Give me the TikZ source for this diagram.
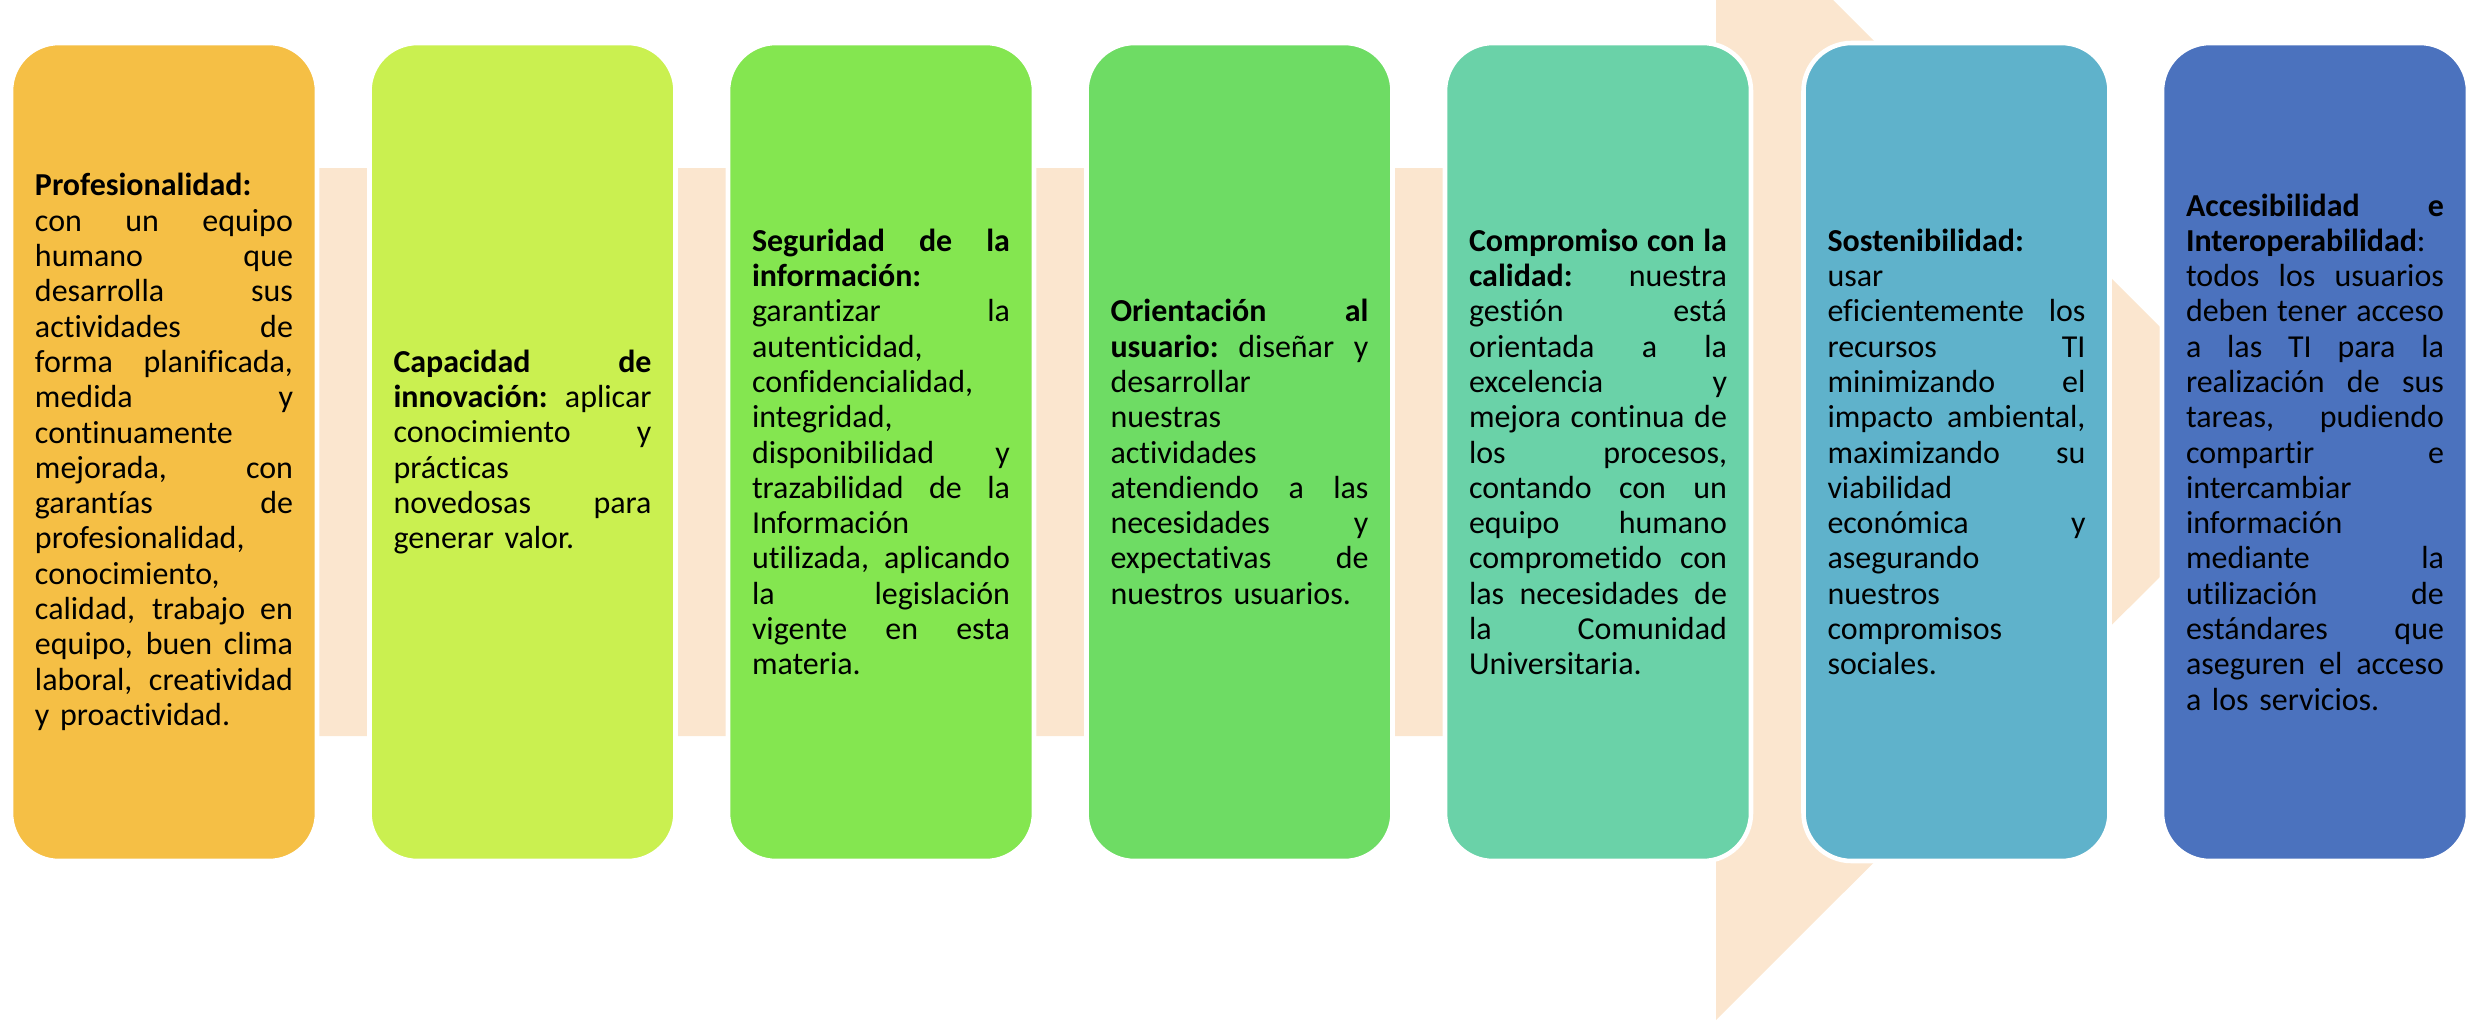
\documentclass[tikz,border=0pt]{standalone}
\usepackage{fontspec}
\setmainfont{Carlito}[Ligatures=NoCommon, Contextuals=NoAlternate]
\usetikzlibrary{positioning}

\definecolor{peach}{HTML}{FBE6CF}
\definecolor{c1}{HTML}{F5BF45}
\definecolor{c2}{HTML}{CAF050}
\definecolor{c3}{HTML}{84E650}
\definecolor{c4}{HTML}{6EDC64}
\definecolor{c5}{HTML}{6AD2A8}
\definecolor{c6}{HTML}{5FB2CB}
\definecolor{c7}{HTML}{4B72BE}

% justified line
\newlength{\tw}
\setlength{\tw}{2.58cm}
\newcommand{\jl}[1]{\hbox to \tw{\spaceskip=0.23em plus 1fil\relax
    \xspaceskip=0.23em plus 1fil\relax #1}\par}

\begin{document}
\begin{tikzpicture}
    [node distance =3.585cm,
    box/.style={draw=white, line width=1.3pt, rounded corners=0.48cm,
        minimum width=3.06cm, minimum height=8.18cm, text width=\tw,
        inner xsep=0.24cm, inner ysep=0pt,
        font=\fontsize{9.1}{10.04}\selectfont}]
        \useasboundingbox (0,0) rectangle (24.9,10.32);

        %% Arrow
        \fill[peach] (1.6,2.96) -- (17.16,2.96) -- (17.16,0.12) -- (22.85,5.80)
            -- (17.16,11.49) -- (17.16,8.64) -- (1.6,8.64) -- cycle;

        %% Boxes
        \node[box, fill=c1] (B1) at (1.64,5.80) {
            \textbf{Profesionalidad:}\par
            \jl{con un equipo}
            \jl{humano que}
            \jl{desarrolla sus}
            \jl{actividades de}
            \jl{forma planificada,}
            \jl{medida y}
            continuamente\par
            \jl{mejorada, con}
            \jl{garantías de}
            profesionalidad,\par
            conocimiento,\par
            \jl{calidad, trabajo en}
            \jl{equipo, buen clima}
            \jl{laboral, creatividad}
            y proactividad.};
        \node[box, fill=c2, right of = B1] (B2) {
            \jl{\textbf{Capacidad de}}
            \jl{\textbf{innovación:} aplicar}
            \jl{conocimiento y}
            prácticas\par
            \jl{novedosas para}
            generar valor.};
        \node[box, fill=c3, right of = B2] (B3) {
            \jl{\textbf{Seguridad de la}}
            \textbf{información:}\par
            \jl{garantizar la}
            autenticidad,\par
            confidencialidad,\par
            integridad,\par
            \jl{disponibilidad y}
            \jl{trazabilidad de la}
            Información\par
            \jl{utilizada, aplicando}
            \jl{la legislación}
            \jl{vigente en esta}
            materia.};
        \node[box, fill=c4, right of = B3] (B4) {
            \jl{\textbf{Orientación al}}
            \jl{\textbf{usuario:} diseñar y}
            desarrollar\par
            nuestras\par
            actividades\par
            \jl{atendiendo a las}
            \jl{necesidades y}
            \jl{expectativas de}
            nuestros usuarios.};
        \node[box, fill=c5, right of = B4] (B5) {
            \jl{\textbf{Compromiso con la}}
            \jl{\textbf{calidad:} nuestra}
            \jl{gestión está}
            \jl{orientada a la}
            \jl{excelencia y}
            \jl{mejora continua de}
            \jl{los procesos,}
            \jl{contando con un}
            \jl{equipo humano}
            \jl{comprometido con}
            \jl{las necesidades de}
            \jl{la Comunidad}
            Universitaria.};
        \node[box, fill=c6, right of = B5] (B6) {
            \textbf{Sostenibilidad:}\par
            usar\par
            \jl{eficientemente los}
            \jl{recursos TI}
            \jl{minimizando el}
            \jl{impacto ambiental,}
            \jl{maximizando su}
            viabilidad\par
            \jl{económica y}
            asegurando\par
            nuestros\par
            compromisos\par
            sociales.};
        \node[box, fill=c7, right of = B6] (B7) {
            \jl{\textbf{Accesibilidad e}}
            \textbf{Interoperabilidad}:\par
            \jl{todos los usuarios}
            \jl{deben tener acceso}
            \jl{a las TI para la}
            \jl{realización de sus}
            \jl{tareas, pudiendo}
            \jl{compartir e}
            intercambiar\par
            información\par
            \jl{mediante la}
            \jl{utilización de}
            \jl{estándares que}
            \jl{aseguren el acceso}
            a los servicios.};
    \end{tikzpicture}
\end{document}
